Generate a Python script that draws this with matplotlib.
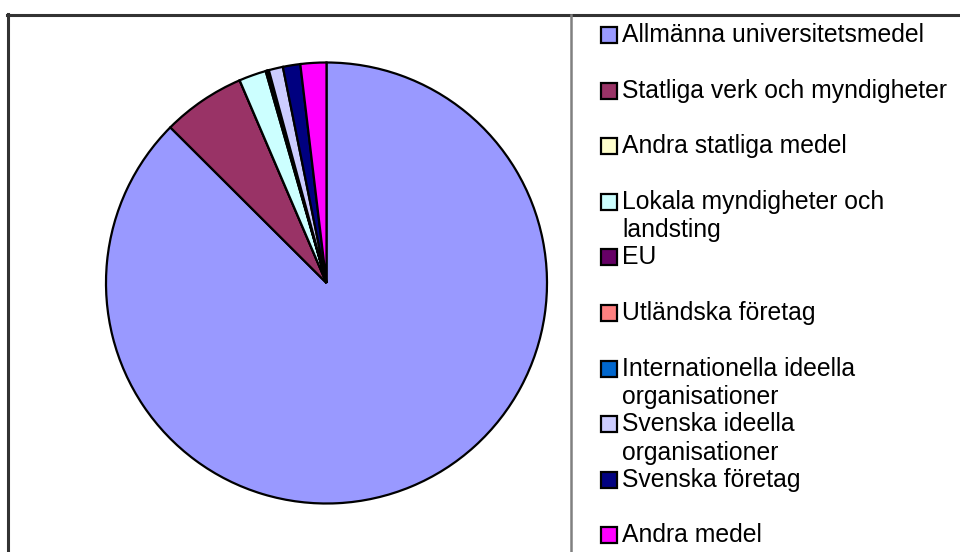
import matplotlib
matplotlib.use("Agg")
import matplotlib.pyplot as plt
from matplotlib.patches import Rectangle
from matplotlib.lines import Line2D

categories = [
    "Allmänna universitetsmedel",
    "Statliga verk och myndigheter",
    "Andra statliga medel",
    "Lokala myndigheter och\nlandsting",
    "EU",
    "Utländska företag",
    "Internationella ideella\norganisationer",
    "Svenska ideella\norganisationer",
    "Svenska företag",
    "Andra medel",
]
values = [87.7, 6.1, 0.0, 2.0, 0.08, 0.08, 0.08, 1.04, 1.28, 1.9]
colors = ["#9999FF", "#993366", "#FFFFCC", "#CCFFFF", "#660066",
          "#FF8080", "#0066CC", "#CCCCFF", "#000080", "#FF00FF"]

W, H = 960, 552
fig = plt.figure(figsize=(W / 100, H / 100), dpi=100)
fig.patch.set_facecolor("white")

# pie axes (pixel placement)
cx, cy, r = 326.5, 283.0, 220.5
ax = fig.add_axes([(cx - r) / W, (H - cy - r) / H, 2 * r / W, 2 * r / H])
ax.pie(values, colors=colors, startangle=90, counterclock=False, radius=1.0,
       wedgeprops=dict(edgecolor="black", linewidth=1.6))
ax.set_xlim(-1.0, 1.0)
ax.set_ylim(-1.0, 1.0)
ax.set_aspect("auto")
ax.axis("off")

# frame lines
def fx(px):
    return px / W

def fy(py):
    return 1 - py / H

fig.add_artist(Line2D([fx(7), fx(960)], [fy(15), fy(15)], color="#333333", linewidth=2.2))
fig.add_artist(Line2D([fx(8), fx(8)], [fy(14), fy(552)], color="#333333", linewidth=2.2))
fig.add_artist(Line2D([fx(571), fx(571)], [fy(15), fy(552)], color="#808080", linewidth=1.8))

# legend drawn manually
box = 16.0
y0, step = 43.0, 55.6
for i, (lab, col) in enumerate(zip(categories, colors)):
    yb = y0 + i * step  # box bottom (px)
    fig.add_artist(Rectangle((fx(600.5), fy(yb)), box / W, box / H,
                             transform=fig.transFigure, facecolor=col,
                             edgecolor="black", linewidth=1.6))
    for j, line in enumerate(lab.split("\n")):
        fig.text(fx(622), fy(yb - 1 + j * 28.5), line, fontsize=17.8,
                 family="Liberation Sans", va="baseline", ha="left", color="black")

fig.savefig("out.png", dpi=100)
